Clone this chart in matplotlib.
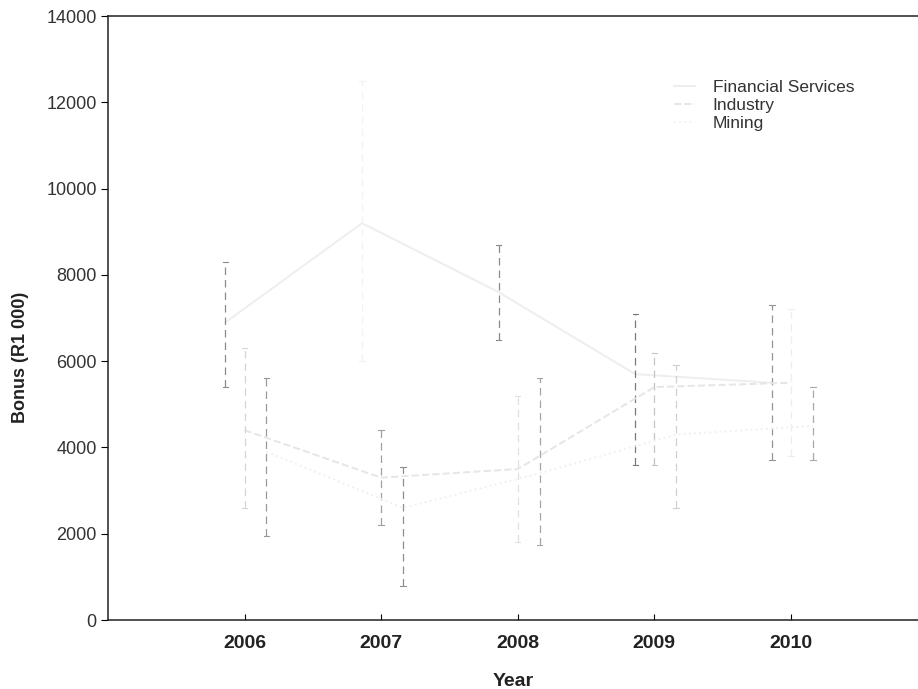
import matplotlib
matplotlib.use("Agg")
import matplotlib.pyplot as plt
import numpy as np

# values (means with CI bounds)
years = [2006, 2007, 2008, 2009, 2010]
series_names = ["Financial Services", "Industry", "Mining"]

fin_mean = [6900, 9200, 7600, 5700, 5500]
fin_low = [5400, 6000, 6500, 3600, 3700]
fin_high = [8300, 12500, 8700, 7100, 7300]

ind_mean = [4400, 3300, 3500, 5400, 5500]
ind_low = [2600, 2200, 1800, 3600, 3800]
ind_high = [6300, 4400, 5200, 6200, 7200]

min_mean = [3900, 2600, 3400, 4300, 4500]
min_low = [1950, 800, 1750, 2600, 3700]
min_high = [5600, 3550, 5600, 5900, 5400]

y_ticks = [0, 2000, 4000, 6000, 8000, 10000, 12000, 14000]

narrow = ["Liberation Sans Narrow", "Liberation Sans", "DejaVu Sans"]
plt.rcParams["font.family"] = ["Liberation Sans", "DejaVu Sans"]

fig = plt.figure(figsize=(9.18, 6.89), dpi=100)
ax = fig.add_axes([0.1176, 0.1001, 0.8824, 0.8766])

offsets = [-0.14, 0.0, 0.16]
styles = ["-", "--", ":"]
line_cols = ["#eeeeee", "#e6e6e6", "#f0f0f0"]
# how dark each whisker came out in the scan (per series, per year)
bar_greys = [["#8a8a8a", "#f2f2f2", "#8a8a8a", "#7a7a7a", "#959595"],
             ["#d5d5d5", "#a0a0a0", "#e0e0e0", "#c5c5c5", "#ededed"],
             ["#999999", "#8f8f8f", "#a5a5a5", "#d0d0d0", "#a8a8a8"]]
data = [(fin_mean, fin_low, fin_high),
        (ind_mean, ind_low, ind_high),
        (min_mean, min_low, min_high)]

for name, off, ls, lc, greys, (m, lo, hi) in zip(series_names, offsets, styles,
                                                 line_cols, bar_greys, data):
    x = np.array(years) + off
    m = np.array(m)
    err = [m - np.array(lo), np.array(hi) - m]
    ax.plot(x, m, ls=ls, color=lc, lw=1.4, label=name)
    eb = ax.errorbar(x, m, yerr=err, fmt="none", elinewidth=0.9,
                     capsize=3, capthick=0.8)
    for coll in eb[2]:
        coll.set_color(greys)
        coll.set_linestyle((0, (6, 4)))
    for cap in eb[1]:
        cap.set_visible(False)
    # caps drawn per point so they follow the whisker shade
    for xi, l, h, g in zip(x, lo, hi, greys):
        ax.plot([xi - 0.02, xi + 0.02], [l, l], color=g, lw=0.8)
        ax.plot([xi - 0.02, xi + 0.02], [h, h], color=g, lw=0.8)

ax.set_xlim(2005.0, 2010.93)
ax.set_ylim(0, 14000)
ax.set_xticks(years)
ax.set_xticklabels([str(y) for y in years], family=narrow,
                   fontweight="bold", fontsize=14, color="#222222")
ax.set_yticks(y_ticks)
ax.set_yticklabels([str(v) for v in y_ticks], fontsize=13, color="#333333")
ax.tick_params(axis="x", direction="in", length=4, pad=11)
ax.tick_params(axis="y", direction="out", length=5, pad=3)

ax.set_xlabel("Year", family=narrow, fontweight="bold", fontsize=14,
              labelpad=15, color="#222222")
ax.set_ylabel("Bonus (R1 000)", family=narrow, fontweight="bold",
              fontsize=13, color="#222222")
ax.yaxis.set_label_coords(-0.098, 0.435)

for side in ["left", "bottom", "top"]:
    ax.spines[side].set_linewidth(1.1)
    ax.spines[side].set_color("#222222")
ax.spines["right"].set_visible(False)

leg = ax.legend(loc="upper left", bbox_to_anchor=(0.68, 0.92), frameon=False,
                fontsize=12.5, handlelength=1.2, labelspacing=0.15,
                handletextpad=1.0)
for t in leg.get_texts():
    t.set_color("#333333")

fig.savefig("out.png", dpi=100)
